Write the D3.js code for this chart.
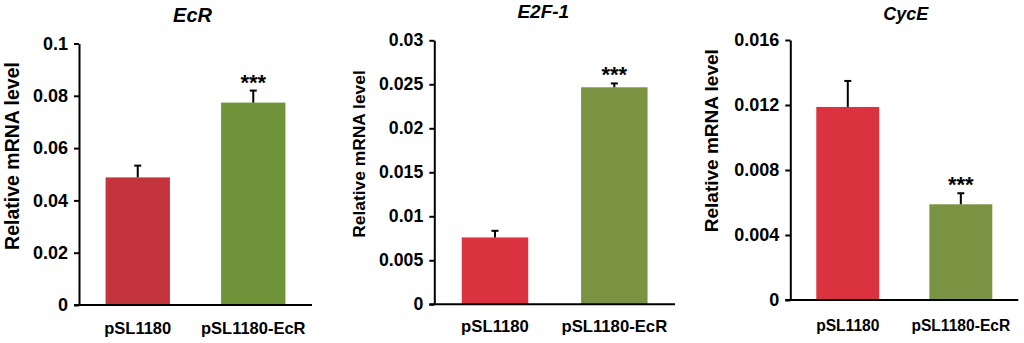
<!DOCTYPE html>
<html>
<head>
<meta charset="utf-8">
<script src="https://cdn.jsdelivr.net/npm/d3@7"></script>
<style>
  body { margin: 0; background: #fff; }
  svg text { font-family: "Liberation Sans", Arial, sans-serif; font-weight: bold; fill: #000; }
</style>
</head>
<body>
<div id="chart"></div>
<script>
// data
var genes = ["EcR", "E2F-1", "CycE"];
var groups = ["pSL1180", "pSL1180-EcR"];

var meanEcR = [0.0488, 0.0774];
var errEcR = [0.0045, 0.0046];
var meanE2F = [0.0076, 0.02466];
var errE2F = [0.00075, 0.00044];
var meanCycE = [0.01188, 0.00589];
var errCycE = [0.0016, 0.00068];

var sigEcR = ["", "***"];
var sigE2F = ["", "***"];
var sigCycE = ["", "***"];

var ticksEcR = [0, 0.02, 0.04, 0.06, 0.08, 0.1];
var tickLabelsEcR = ["0", "0.02", "0.04", "0.06", "0.08", "0.1"];
var ticksE2F = [0, 0.005, 0.01, 0.015, 0.02, 0.025, 0.03];
var tickLabelsE2F = ["0", "0.005", "0.01", "0.015", "0.02", "0.025", "0.03"];
var ticksCycE = [0, 0.004, 0.008, 0.012, 0.016];
var tickLabelsCycE = ["0", "0.004", "0.008", "0.012", "0.016"];

var yLabel = "Relative mRNA level";

// layout of each panel (positions / styles only)
var panels = [
  {gene: genes[0], mean: meanEcR, err: errEcR, sig: sigEcR, ticks: ticksEcR, tickLabels: tickLabelsEcR,
   x0: 79, x1: 312, yTop: 43.5, yBot: 305, colors: ["#C3343C", "#6F943A"],
   titleX: 192.5, titleY: 22, titleSize: 20, ylabX: 18.5, ylabY: 156, ylabSize: 19.5,
   tickFont: 18, xlabY: 334, xlabSize: 16.5},
  {gene: genes[1], mean: meanE2F, err: errE2F, sig: sigE2F, ticks: ticksE2F, tickLabels: tickLabelsE2F,
   x0: 434.3, x1: 675, yTop: 40.3, yBot: 304.3, colors: ["#DA323F", "#7A9443"],
   titleX: 543.3, titleY: 17.5, titleSize: 19, ylabX: 365, ylabY: 154, ylabSize: 17.4,
   tickFont: 17.7, xlabY: 331.7, xlabSize: 16.7},
  {gene: genes[2], mean: meanCycE, err: errCycE, sig: sigCycE, ticks: ticksCycE, tickLabels: tickLabelsCycE,
   x0: 790.3, x1: 1018.3, yTop: 40, yBot: 300, colors: ["#DA323F", "#7A9443"],
   titleX: 905.8, titleY: 19.5, titleSize: 18, ylabX: 718.3, ylabY: 140.7, ylabSize: 19,
   tickFont: 18, xlabY: 331, xlabSize: 15.6}
];

var svg = d3.select("#chart")
  .append("svg")
  .attr("width", 1024)
  .attr("height", 343);

panels.forEach(function(p) {
  var yScale = d3.scaleLinear()
    .domain([0, d3.max(p.ticks)])
    .range([p.yBot, p.yTop]);
  var xScale = d3.scaleBand()
    .domain(groups)
    .range([p.x0, p.x1])
    .paddingInner(0.443)
    .paddingOuter(0.23);

  var g = svg.append("g");

  // bars
  g.selectAll("rect.bar")
    .data(groups)
    .enter()
    .append("rect")
    .attr("class", "bar")
    .attr("x", function(d) { return xScale(d); })
    .attr("width", xScale.bandwidth())
    .attr("y", function(d, i) { return yScale(p.mean[i]); })
    .attr("height", function(d, i) { return p.yBot - yScale(p.mean[i]); })
    .attr("fill", function(d, i) { return p.colors[i]; });

  // error bars (upper only)
  var eb = g.selectAll("g.err")
    .data(groups)
    .enter()
    .append("g")
    .attr("class", "err")
    .attr("stroke", "#000")
    .attr("stroke-width", 2);
  eb.append("line")
    .attr("x1", function(d) { return xScale(d) + xScale.bandwidth() / 2; })
    .attr("x2", function(d) { return xScale(d) + xScale.bandwidth() / 2; })
    .attr("y1", function(d, i) { return yScale(p.mean[i]); })
    .attr("y2", function(d, i) { return yScale(p.mean[i] + p.err[i]); });
  eb.append("line")
    .attr("x1", function(d) { return xScale(d) + xScale.bandwidth() / 2 - 3.5; })
    .attr("x2", function(d) { return xScale(d) + xScale.bandwidth() / 2 + 3.5; })
    .attr("y1", function(d, i) { return yScale(p.mean[i] + p.err[i]); })
    .attr("y2", function(d, i) { return yScale(p.mean[i] + p.err[i]); });

  // significance stars
  g.selectAll("text.sig")
    .data(groups)
    .enter()
    .append("text")
    .attr("class", "sig")
    .attr("x", function(d) { return xScale(d) + xScale.bandwidth() / 2; })
    .attr("y", function(d, i) { return yScale(p.mean[i] + p.err[i]) - 1; })
    .attr("text-anchor", "middle")
    .style("font-size", "22px")
    .text(function(d, i) { return p.sig[i]; });

  // y axis
  var yAxis = d3.axisLeft(yScale)
    .tickValues(p.ticks)
    .tickFormat(function(d, i) { return p.tickLabels[i]; })
    .tickSizeInner(5)
    .tickSizeOuter(0)
    .tickPadding(6);
  var yG = g.append("g")
    .attr("transform", "translate(" + p.x0 + ",0)")
    .call(yAxis);
  yG.selectAll("path, line").attr("stroke", "#000").attr("stroke-width", 2);
  yG.selectAll("text").style("font-size", p.tickFont + "px").style("font-family", null);

  // x axis
  var xAxis = d3.axisBottom(xScale)
    .tickSize(0)
    .tickPadding(p.xlabY - p.yBot - 0.71 * p.xlabSize);
  var xG = g.append("g")
    .attr("transform", "translate(0," + p.yBot + ")")
    .call(xAxis);
  xG.select(".domain").attr("stroke", "#000").attr("stroke-width", 2)
    .attr("d", "M" + (p.x0 - 5) + ",0H" + p.x1);
  xG.selectAll("text").style("font-size", p.xlabSize + "px").style("font-family", null);

  // title
  g.append("text")
    .attr("x", p.titleX)
    .attr("y", p.titleY)
    .attr("text-anchor", "middle")
    .style("font-size", p.titleSize + "px")
    .style("font-style", "italic")
    .text(p.gene);

  // y label
  g.append("text")
    .attr("transform", "translate(" + p.ylabX + "," + p.ylabY + ") rotate(-90)")
    .attr("text-anchor", "middle")
    .style("font-size", p.ylabSize + "px")
    .text(yLabel);
});
</script>
</body>
</html>
